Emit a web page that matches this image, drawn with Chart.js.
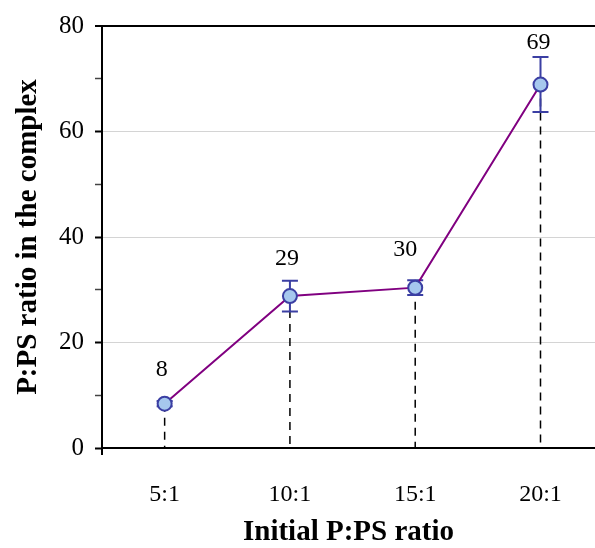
<!DOCTYPE html>
<html>
<head>
<meta charset="utf-8">
<script src="https://cdn.jsdelivr.net/npm/chart.js@4/dist/chart.umd.min.js"></script>
<style>
  html, body { margin: 0; padding: 0; background: #fff; overflow: hidden; }
  #wrap { width: 595px; height: 548px; position: relative; }
</style>
</head>
<body>
<div id="wrap"><canvas id="chart" width="595" height="548"></canvas></div>
<script>
// Initial P:PS ratio (categories) and the measured ratio in the complex
const categories = ['5:1', '10:1', '15:1', '20:1'];
const ratioValues = [8.4, 28.8, 30.4, 68.9];
const ratioErrors = [0.5, 2.9, 1.4, 5.2];
const yMajorTicks = [0, 20, 40, 60, 80];

const SERIF = "'Liberation Serif', 'Times New Roman', serif";
const MARKER_EDGE = '#3b3fa3';

// Dashed drop lines, error bars, value labels and the axis corner tick
const decorPlugin = {
  id: 'decor',
  beforeDatasetsDraw(chart, args, opts) {
    const { ctx, scales: { x, y } } = chart;
    const meta = chart.getDatasetMeta(0);
    const base = y.getPixelForValue(0);
    ctx.save();
    ctx.strokeStyle = '#000';
    ctx.lineWidth = 1.5;
    ctx.setLineDash([8, 6]);
    meta.data.forEach((pt, i) => {
      ctx.beginPath();
      ctx.moveTo(pt.x, y.getPixelForValue(ratioValues[i]));
      ctx.lineTo(pt.x, base);
      ctx.stroke();
    });
    ctx.setLineDash([]);
    ctx.strokeStyle = MARKER_EDGE;
    ctx.lineWidth = 2;
    meta.data.forEach((pt, i) => {
      const top = y.getPixelForValue(ratioValues[i] + ratioErrors[i]);
      const bot = y.getPixelForValue(ratioValues[i] - ratioErrors[i]);
      const cap = 8;
      ctx.beginPath();
      ctx.moveTo(pt.x, top); ctx.lineTo(pt.x, bot);
      ctx.moveTo(pt.x - cap, top); ctx.lineTo(pt.x + cap, top);
      ctx.moveTo(pt.x - cap, bot); ctx.lineTo(pt.x + cap, bot);
      ctx.stroke();
    });
    ctx.restore();
  },
  afterDatasetsDraw(chart, args, opts) {
    const { ctx, chartArea, scales: { y } } = chart;
    const meta = chart.getDatasetMeta(0);
    ctx.save();
    // small tick below the axis corner
    ctx.strokeStyle = '#000';
    ctx.lineWidth = 2;
    ctx.beginPath();
    ctx.moveTo(chartArea.left, y.getPixelForValue(0));
    ctx.lineTo(chartArea.left, y.getPixelForValue(0) + 7);
    ctx.stroke();
    // value labels above the points
    ctx.fillStyle = '#000';
    ctx.font = '24px ' + SERIF;
    ctx.textAlign = 'center';
    ctx.textBaseline = 'middle';
    meta.data.forEach((pt, i) => {
      const dx = opts.labelDx[i] || 0;
      const dy = opts.labelDy[i] || 0;
      ctx.fillText(String(Math.round(ratioValues[i])), pt.x + dx, pt.y + dy);
    });
    ctx.restore();
  }
};

const isMajor = v => yMajorTicks.includes(v);

new Chart(document.getElementById('chart'), {
  type: 'line',
  data: {
    datasets: [{
      data: ratioValues.map((v, i) => ({ x: i + 1, y: v })),
      borderColor: '#800080',
      borderWidth: 2,
      tension: 0,
      pointRadius: 7,
      pointBorderWidth: 2,
      pointBackgroundColor: '#a6c8ee',
      pointBorderColor: MARKER_EDGE,
      clip: false
    }]
  },
  options: {
    responsive: false,
    animation: false,
    devicePixelRatio: 1,
    layout: { autoPadding: false, padding: { left: 11, top: 25, right: 0, bottom: 0 } },
    plugins: {
      legend: { display: false },
      tooltip: { enabled: false },
      decor: { labelDx: [-3, -3, -10, -2], labelDy: [-34, -37, -38, -42] }
    },
    scales: {
      x: {
        type: 'linear',
        min: 0.5,
        max: 4.435,
        afterBuildTicks: s => { s.ticks = categories.map((c, i) => ({ value: i + 1 })); },
        afterFit: s => { s.height = 100; s.paddingLeft = 0; s.paddingRight = 0; },
        grid: { display: false },
        border: { display: true, color: '#000', width: 2 },
        ticks: {
          autoSkip: false,
          maxRotation: 0,
          padding: 24,
          color: '#000',
          font: { family: SERIF, size: 24 },
          callback: v => categories[v - 1] ?? ''
        },
        title: {
          display: true,
          text: 'Initial P:PS ratio',
          color: '#000',
          font: { family: SERIF, size: 29, weight: 'bold', lineHeight: 1.1 },
          padding: 0
        }
      },
      y: {
        min: 0,
        max: 80,
        afterFit: s => { s.width = 91; },
        ticks: {
          stepSize: 10,
          padding: 11,
          color: '#000',
          font: { family: SERIF, size: 25 },
          callback: v => isMajor(v) ? String(v) : ''
        },
        grid: {
          color: c => c.tick.value === 80 ? '#000' : (c.tick.value % 20 === 0 && c.tick.value > 0 ? '#d4d4d4' : 'rgba(0,0,0,0)'),
          lineWidth: c => c.tick.value === 80 ? 2 : 1,
          tickColor: c => isMajor(c.tick.value) ? '#000' : '#444',
          tickWidth: c => isMajor(c.tick.value) ? 2 : 1.5,
          tickLength: 7
        },
        border: { display: true, color: '#000', width: 2 },
        title: {
          display: true,
          text: 'P:PS ratio in the complex',
          color: '#000',
          font: { family: SERIF, size: 29, weight: 'bold', lineHeight: 1.2 },
          padding: 0
        }
      }
    }
  },
  plugins: [decorPlugin]
});
</script>
</body>
</html>
